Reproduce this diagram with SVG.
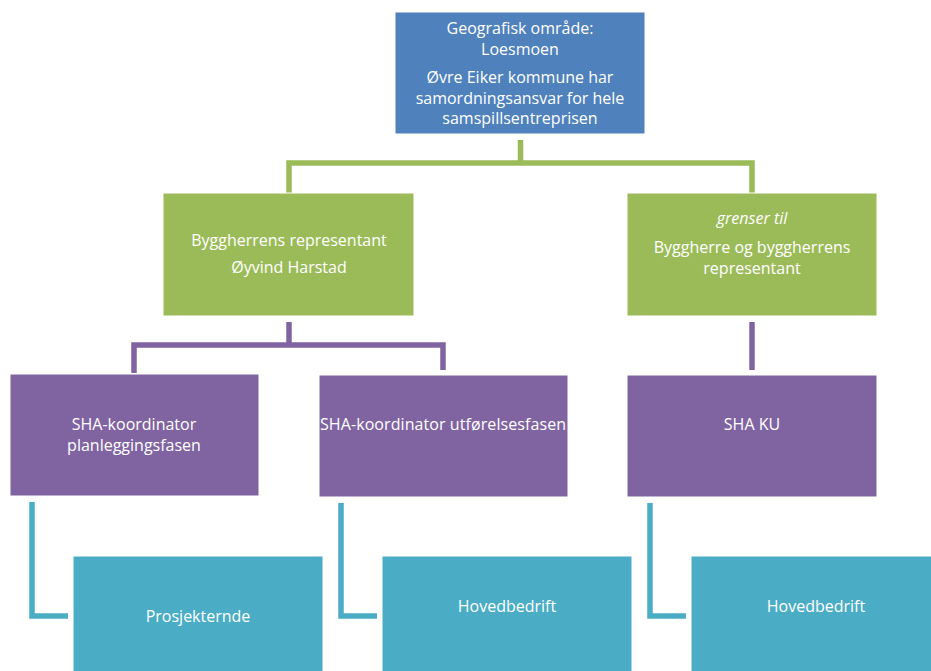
<svg xmlns="http://www.w3.org/2000/svg" width="931" height="671" viewBox="0 0 931 671">
<style>
text{font-family:"Open Sans","Noto Sans","Liberation Sans",sans-serif;font-size:16px;fill:#fff;text-anchor:middle}
.it{font-style:italic}
.blue{fill:#4F81BD;stroke:#fff;stroke-width:1}
.green{fill:#9BBB59;stroke:#fff;stroke-width:1}
.purple{fill:#8064A2;stroke:#fff;stroke-width:1}
.teal{fill:#4BACC6;stroke:#fff;stroke-width:1}
.cg{fill:none;stroke:#9BBB59;stroke-width:5.5}
.cp{fill:none;stroke:#8064A2;stroke-width:5.5}
.ct{fill:none;stroke:#4BACC6;stroke-width:5.5}
</style>
<rect width="931" height="671" fill="#fff"/>
<g id="connectors">
<path class="cg" d="M520.5 140 V163 M289 193 V163 H752 V193"/>
<path class="cp" d="M289 322 V345 M134 373 V345 H443 V370"/>
<path class="cp" d="M752 322 V370"/>
<path class="ct" d="M32 502 V616 H68"/>
<path class="ct" d="M341 503 V616 H377"/>
<path class="ct" d="M650 503 V616 H686"/>
</g>
<g id="n-top">
<rect class="blue" x="395" y="12" width="250" height="122"/>
<text x="520" y="34">Geografisk område:</text>
<text x="520" y="55">Loesmoen</text>
<text x="520" y="83">Øvre Eiker kommune har</text>
<text x="520" y="104">samordningsansvar for hele</text>
<text x="520" y="124">samspillsentreprisen</text>
</g>
<g id="n-byggherrens">
<rect class="green" x="163" y="193" width="251" height="123"/>
<text x="289" y="246">Byggherrens representant</text>
<text x="289" y="273">Øyvind Harstad</text>
</g>
<g id="n-grenser">
<rect class="green" x="627" y="193" width="250" height="123"/>
<text class="it" x="752" y="224">grenser til</text>
<text x="752" y="253">Byggherre og byggherrens</text>
<text x="752" y="274">representant</text>
</g>
<g id="n-sha-plan">
<rect class="purple" x="10" y="374" width="249" height="122"/>
<text x="134" y="430">SHA-koordinator</text>
<text x="134" y="451">planleggingsfasen</text>
</g>
<g id="n-sha-utf">
<rect class="purple" x="319" y="375" width="249" height="122"/>
<text x="443" y="430" textLength="246" lengthAdjust="spacing">SHA-koordinator utførelsesfasen</text>
</g>
<g id="n-sha-ku">
<rect class="purple" x="627" y="375" width="250" height="122"/>
<text x="752" y="430">SHA KU</text>
</g>
<g id="n-prosjekterende">
<rect class="teal" x="73" y="556" width="250" height="122"/>
<text x="198" y="622">Prosjekternde</text>
</g>
<g id="n-hoved1">
<rect class="teal" x="382" y="556" width="250" height="122"/>
<text x="507" y="612">Hovedbedrift</text>
</g>
<g id="n-hoved2">
<rect class="teal" x="691" y="556" width="250" height="122"/>
<text x="816" y="612">Hovedbedrift</text>
</g>
</svg>
